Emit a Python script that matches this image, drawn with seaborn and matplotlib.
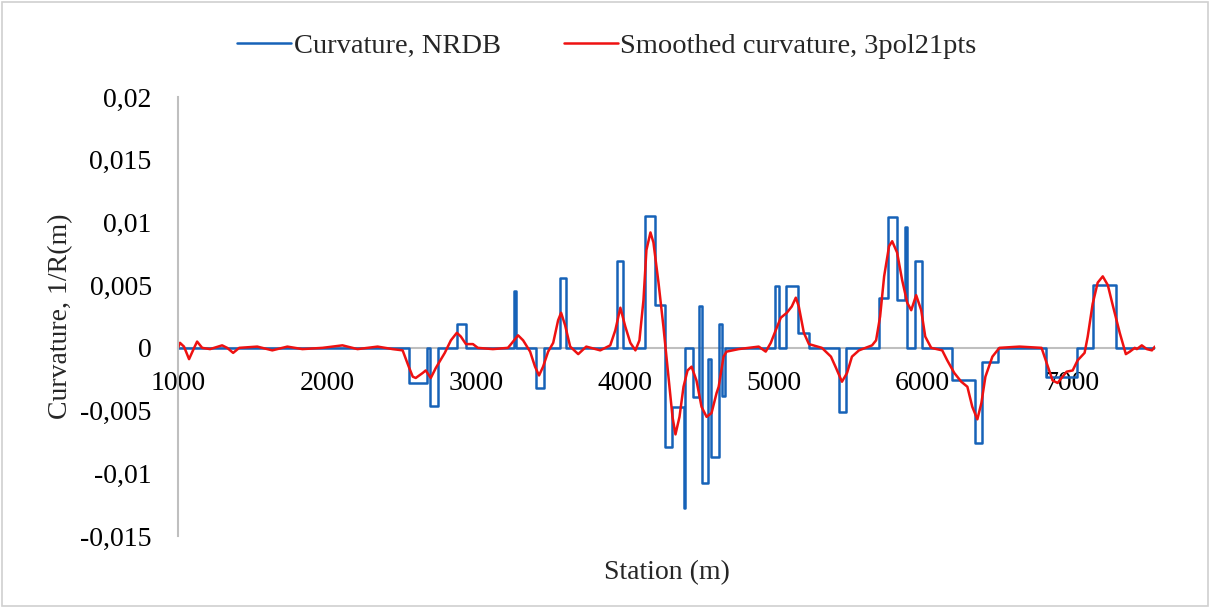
import numpy as np
import pandas as pd
import matplotlib
matplotlib.use('Agg')
import matplotlib.pyplot as plt
from matplotlib.ticker import FuncFormatter, FixedLocator
from matplotlib.patches import Rectangle
import seaborn as sns

# NRDB curvature, step function (value holds until the next station)
nrdb_station = [1000, 2549, 2670, 2690, 2744, 2872, 2933, 3256, 3266, 3404, 3458,
                3566, 3606, 3949, 3990, 4138, 4205, 4273, 4320, 4394, 4404, 4461,
                4501, 4515, 4556, 4576, 4630, 4650, 4670, 5007, 5034, 5081, 5162,
                5236, 5438, 5485, 5707, 5768, 5828, 5882, 5896, 5949, 5997, 6199,
                6354, 6401, 6508, 6825, 7034, 7141, 7296, 7559]
nrdb_curv = [0, -0.0028, 0, -0.0046, 0, 0.0019, 0, 0.0045, 0, -0.0032, 0,
             0.0056, 0, 0.0069, 0, 0.0105, 0.0034, -0.0079, -0.0047, -0.0128, 0, -0.0039,
             0.0033, -0.0108, -0.0009, -0.0087, 0.0019, -0.0038, 0, 0.0049, 0, 0.0049, 0.0012,
             0, -0.0051, 0, 0.0040, 0.0104, 0.0038, 0.0096, 0, 0.0069, 0, -0.0026,
             -0.0076, -0.0011, 0, -0.0023, 0, 0.0050, 0, 0]

# smoothed curvature (3rd order polynomial, 21 points)
smooth_station = [1000, 1013, 1040, 1074, 1108, 1128, 1162, 1215, 1296, 1330, 1370, 1411,
                  1532, 1633, 1734, 1835, 1970, 2104, 2205, 2340, 2441, 2508, 2549, 2576,
                  2596, 2643, 2663, 2697, 2731, 2791, 2832, 2872, 2899, 2933, 2980, 3013,
                  3114, 3215, 3236, 3283, 3317, 3364, 3397, 3424, 3451, 3485, 3519, 3552,
                  3572, 3599, 3633, 3687, 3741, 3835, 3902, 3936, 3970, 4003, 4037, 4071,
                  4098, 4125, 4145, 4172, 4192, 4226, 4259, 4293, 4320, 4340, 4367, 4394,
                  4421, 4448, 4481, 4515, 4549, 4582, 4616, 4630, 4663, 4683, 4764, 4899,
                  4946, 4980, 5013, 5047, 5088, 5121, 5148, 5168, 5202, 5236, 5323, 5384,
                  5418, 5458, 5492, 5525, 5572, 5660, 5687, 5714, 5741, 5774, 5795, 5828,
                  5862, 5896, 5923, 5956, 5990, 6017, 6057, 6131, 6165, 6212, 6259, 6300,
                  6333, 6367, 6394, 6421, 6468, 6515, 6650, 6798, 6832, 6872, 6906, 6966,
                  7007, 7040, 7087, 7108, 7141, 7175, 7209, 7243, 7276, 7323, 7364, 7391,
                  7424, 7438, 7471, 7505, 7539, 7559]
smooth_curv = [0.0, 0.0004, 0.0001, -0.0009, 0.0, 0.0005, 0.0, -0.0001, 0.0002, 0.0, -0.0004, 0.0,
               0.0001, -0.0002, 0.0001, -0.0001, 0.0, 0.0002, -0.0001, 0.0001, -0.0001, -0.0002, -0.0015, -0.0023,
               -0.0024, -0.0020, -0.0018, -0.0024, -0.0016, -0.0004, 0.0006, 0.0012, 0.0009, 0.0003, 0.0003, 0.0,
               -0.0001, 0.0, 0.0003, 0.0010, 0.0006, -0.0003, -0.0015, -0.0022, -0.0015, -0.0003, 0.0004, 0.0022,
               0.0028, 0.0018, 0.0001, -0.0005, 0.0001, -0.0002, 0.0002, 0.0014, 0.0032, 0.0017, 0.0004, -0.0002,
               0.0006, 0.0038, 0.0078, 0.0092, 0.0084, 0.0052, 0.0017, -0.0023, -0.0055, -0.0069, -0.0055, -0.0031,
               -0.0018, -0.0015, -0.0026, -0.0047, -0.0055, -0.0052, -0.0036, -0.0031, -0.0007, -0.0003, -0.0001, 0.0001,
               -0.0003, 0.0004, 0.0014, 0.0024, 0.0028, 0.0033, 0.0040, 0.0033, 0.0012, 0.0003, 0.0, -0.0007,
               -0.0016, -0.0027, -0.0020, -0.0007, -0.0002, 0.0002, 0.0006, 0.0025, 0.0057, 0.0081, 0.0085, 0.0076,
               0.0054, 0.0036, 0.0030, 0.0042, 0.0030, 0.0009, 0.0, -0.0002, -0.0010, -0.0020, -0.0027, -0.0031,
               -0.0047, -0.0057, -0.0044, -0.0023, -0.0007, 0.0, 0.0001, 0.0, -0.0012, -0.0026, -0.0028, -0.0019,
               -0.0018, -0.0010, -0.0004, 0.0009, 0.0035, 0.0052, 0.0057, 0.0050, 0.0034, 0.0012, -0.0005, -0.0003,
               0.0, -0.0001, 0.0002, -0.0001, -0.0002, 0.0001]

y_ticks = [-0.015, -0.01, -0.005, 0, 0.005, 0.01, 0.015, 0.02]
x_ticks = [1000, 2000, 3000, 4000, 5000, 6000, 7000]

sns.set_style('white')
plt.rcParams['font.family'] = ['Liberation Serif', 'DejaVu Serif']

fig = plt.figure(figsize=(12.12, 6.08), dpi=100)
ax = fig.add_axes([0.1469, 0.1184, 0.9530 - 0.1469, 0.8405 - 0.1184])

sns.lineplot(x=nrdb_station, y=nrdb_curv, drawstyle='steps-post', estimator=None,
             color='#1662b8', linewidth=1.8, label='Curvature, NRDB', ax=ax)
sns.lineplot(x=smooth_station, y=smooth_curv, estimator=None, sort=False,
             color='#ee1111', linewidth=1.8, label='Smoothed curvature, 3pol21pts', ax=ax)

ax.set_xlim(1000, 7560)
ax.set_ylim(-0.015, 0.02)
ax.yaxis.set_major_locator(FixedLocator(y_ticks))
ax.xaxis.set_major_locator(FixedLocator(x_ticks))
ax.yaxis.set_major_formatter(FuncFormatter(lambda v, p: ('%g' % round(v, 4)).replace('.', ',')))
ax.xaxis.set_major_formatter(FuncFormatter(lambda v, p: '%d' % v))

for s in ['top', 'right']:
    ax.spines[s].set_visible(False)
ax.spines['bottom'].set_position(('data', 0))
ax.spines['bottom'].set_color('#bfbfbf')
ax.spines['left'].set_color('#bfbfbf')
ax.spines['bottom'].set_linewidth(1.5)
ax.spines['left'].set_linewidth(1.5)
ax.set_zorder(1)
ax.spines['bottom'].set_zorder(0.5)

ax.tick_params(axis='both', length=0, labelsize=20, colors='black')
ax.tick_params(axis='y', pad=19)
ax.tick_params(axis='x', pad=17)

ax.set_xlabel('Station (m)', fontsize=20, labelpad=0)
ax.xaxis.set_label_coords(0.5, -0.055)
ax.set_ylabel('Curvature, 1/R(m)', fontsize=20, labelpad=5)

ax.legend(loc='center left', bbox_to_anchor=(0.1955, 0.924), bbox_transform=fig.transFigure,
          ncol=2, frameon=False, fontsize=20.5, handlelength=1.9, handletextpad=0.1,
          columnspacing=2.2, borderaxespad=0, borderpad=0)

fig.patches.append(Rectangle((0.002, 0.003), 0.995, 0.993, transform=fig.transFigure,
                             fill=False, edgecolor='#d0d0d0', linewidth=1.2))

fig.savefig('out.png', dpi=100)
